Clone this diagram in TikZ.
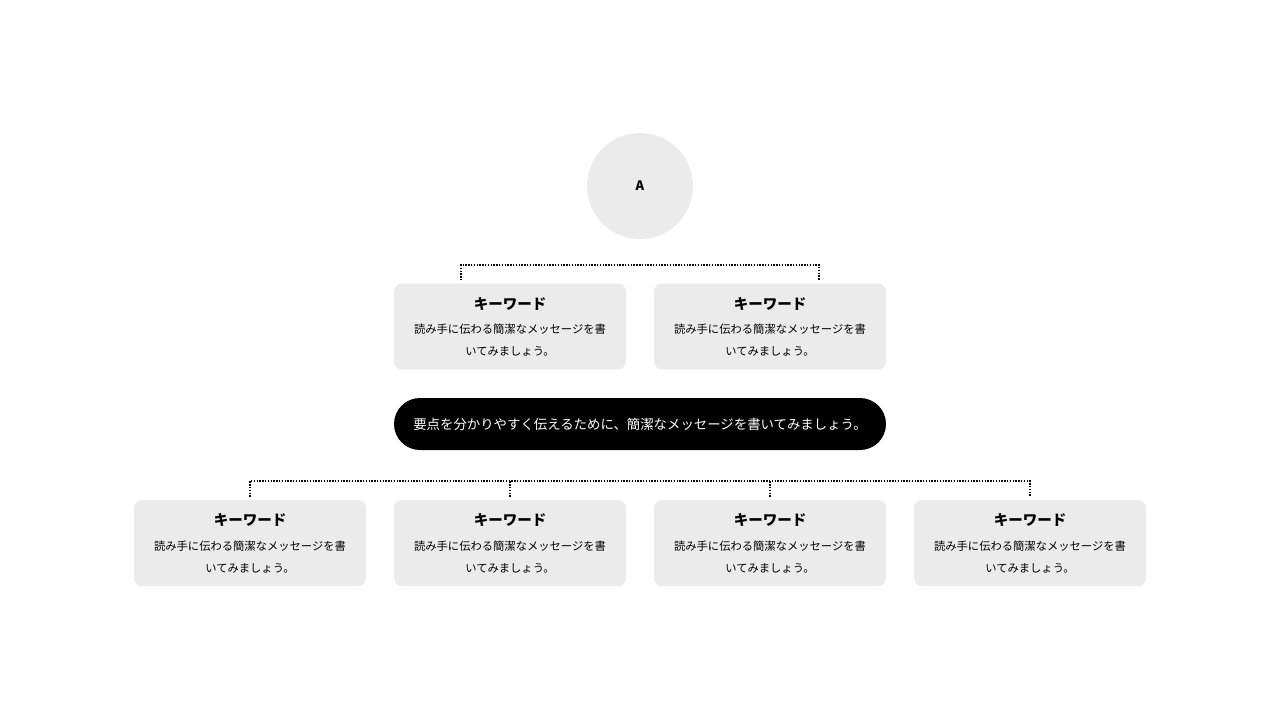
\documentclass[tikz,border=0pt]{standalone}
\usepackage{fontspec}
\newfontfamily\jp{Noto Sans CJK JP}
\usepackage{tikz}
\usetikzlibrary{positioning,calc}
\definecolor{cardgray}{HTML}{EBEBEB}

\begin{document}
\begin{tikzpicture}[x=1pt,y=-1pt,
  card/.style={fill=cardgray,rounded corners=8pt,minimum width=232pt,minimum height=86pt,inner sep=0pt},
  cardtitle/.style={font=\jp\bfseries\fontsize{14.5}{17}\selectfont},
  cardtext/.style={font=\jp\fontsize{11.3}{22}\selectfont,align=center},
  bracket/.style={line width=1.4pt,dash pattern=on 1.4pt off 1.4pt}]
  \useasboundingbox (0,0) rectangle (1280,720);
  \node[circle,fill=cardgray,minimum size=106pt,font=\jp\bfseries\fontsize{13}{15}\selectfont] (hub) at (640,186) {A};
  \foreach \n/\x/\y in {t1/510/326.5, t2/770/326.5, b1/250/543, b2/510/543, b3/770/543, b4/1030/543}{
    \node[card] (\n) at (\x,\y) {};
    \node[cardtitle] (\n title) at (\x,\y-22.5) {キーワード};
    \node[cardtext] (\n text) at (\x,\y+14) {読み手に伝わる簡潔なメッセージを書\\いてみましょう。};
  }
  \node[fill=black,rounded corners=26pt,minimum width=492pt,minimum height=52pt,text=white,
        font=\jp\fontsize{13.4}{16}\selectfont] (msg) at (640,424) {要点を分かりやすく伝えるために、簡潔なメッセージを書いてみましょう。};
  % brackets
  \coordinate (topbar) at (640,265);
  \coordinate (lowbar) at (640,481);
  \draw[bracket] ([shift={(-49pt,3pt)}]t1.north) |- (topbar) -| ([shift={(49pt,3pt)}]t2.north);
  \draw[bracket] ([yshift=3pt]b1.north) |- (lowbar) -| ([yshift=3pt]b4.north);
  \draw[bracket] ([yshift=3pt]b2.north) -- (b2.north |- lowbar);
  \draw[bracket] ([yshift=3pt]b3.north) -- (b3.north |- lowbar);
\end{tikzpicture}
\end{document}
